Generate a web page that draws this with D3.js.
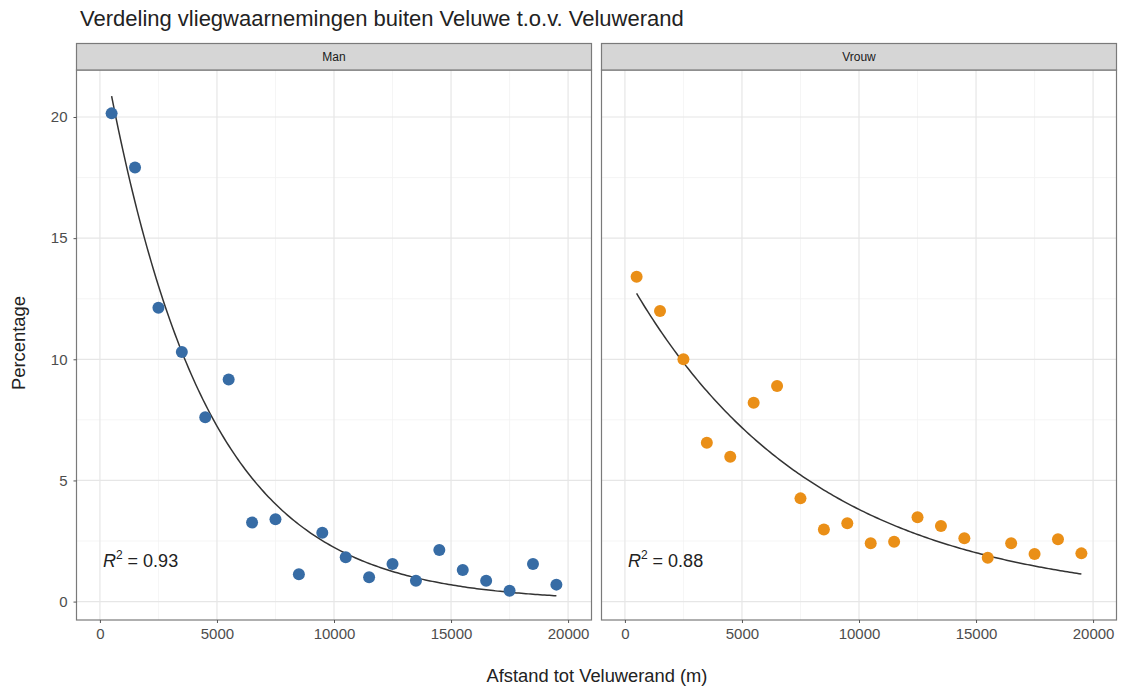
<!DOCTYPE html>
<html><head><meta charset="utf-8">
<script src="https://cdn.jsdelivr.net/npm/d3@7"></script>
<style>body{margin:0;background:#fff}svg{display:block}text{font-family:"Liberation Sans",Arial,sans-serif}</style>
</head><body>
<svg id="c" width="1127" height="689"></svg>
<script>
const title = "Verdeling vliegwaarnemingen buiten Veluwe t.o.v. Veluwerand";
const panels = ["Man", "Vrouw"];
const distances = [500,1500,2500,3500,4500,5500,6500,7500,8500,9500,10500,11500,12500,13500,14500,15500,16500,17500,18500,19500];
const manPct = [20.15,17.92,12.13,10.30,7.61,9.17,3.26,3.40,1.13,2.84,1.83,1.00,1.55,0.86,2.13,1.30,0.86,0.45,1.55,0.70];
const vrouwPct = [13.41,11.99,10.00,6.56,5.98,8.21,8.90,4.26,2.98,3.23,2.41,2.47,3.48,3.12,2.61,1.81,2.41,1.96,2.57,1.99];
// fitted exponential model y = a * exp(-b * x) per panel
const manFit = [23.46, 0.000235];
const vrouwFit = [13.55, 0.000127];
const r2Labels = ["0.93", "0.88"];
const xTicks = [0, 5000, 10000, 15000, 20000];
const yTicks = [0, 5, 10, 15, 20];
const xMinor = [2500, 7500, 12500, 17500];
const yMinor = [2.5, 7.5, 12.5, 17.5];
const colors = ["#376ca5", "#ea8f17"];

(function () {
const svg = d3.select("#c");
const panelX = [76.5, 601.5], panelW = 515, pTop = 70, pBottom = 620, stripTop = 43.5;
const y = d3.scaleLinear().domain([-0.76, 21.94]).range([pBottom, pTop]);
const series = [manPct, vrouwPct];
const fits = [manFit, vrouwFit];

function fitWidth(sel, base, target) {
  const w = sel.node().getComputedTextLength();
  sel.attr("font-size", base * target / w);
}

// title
const t = svg.append("text").attr("x", 80).attr("y", 26).attr("font-size", 19).attr("fill", "#222").text(title);
fitWidth(t, 19, 604);

panels.forEach((name, i) => {
  const x0 = panelX[i];
  const x = d3.scaleLinear().domain([-1000, 21000]).range([x0, x0 + panelW]);
  const g = svg.append("g");
  // minor grid
  g.selectAll(".mx").data(xMinor).join("line").attr("x1", d => x(d)).attr("x2", d => x(d))
    .attr("y1", pTop).attr("y2", pBottom).attr("stroke", "#f2f2f2").attr("stroke-width", 0.8);
  g.selectAll(".my").data(yMinor).join("line").attr("y1", d => y(d)).attr("y2", d => y(d))
    .attr("x1", x0).attr("x2", x0 + panelW).attr("stroke", "#f2f2f2").attr("stroke-width", 0.8);
  // major grid
  g.selectAll(".gx").data(xTicks).join("line").attr("x1", d => x(d)).attr("x2", d => x(d))
    .attr("y1", pTop).attr("y2", pBottom).attr("stroke", "#e6e6e6").attr("stroke-width", 1.2);
  g.selectAll(".gy").data(yTicks).join("line").attr("y1", d => y(d)).attr("y2", d => y(d))
    .attr("x1", x0).attr("x2", x0 + panelW).attr("stroke", "#e6e6e6").attr("stroke-width", 1.2);

  // fitted curve
  const [a, b] = fits[i];
  const xs = d3.range(distances[0], distances[distances.length - 1] + 1, 100);
  g.append("path").datum(xs).attr("fill", "none").attr("stroke", "#333").attr("stroke-width", 1.5)
    .attr("d", d3.line().x(d => x(d)).y(d => y(a * Math.exp(-b * d))));

  // points
  g.selectAll("circle").data(series[i]).join("circle")
    .attr("cx", (d, j) => x(distances[j])).attr("cy", d => y(d)).attr("r", 6).attr("fill", colors[i]);

  // R^2 label
  const rt = g.append("text").attr("x", x(0) + 3).attr("y", y(1.72) + 7).attr("font-size", 18).attr("fill", "#222");
  rt.append("tspan").attr("font-style", "italic").text("R");
  rt.append("tspan").attr("dy", -8).attr("font-size", 12).text("2");
  rt.append("tspan").attr("dy", 8).text(" = " + r2Labels[i]);

  // panel border
  g.append("rect").attr("x", x0).attr("y", pTop).attr("width", panelW).attr("height", pBottom - pTop)
    .attr("fill", "none").attr("stroke", "#7a7a7a").attr("stroke-width", 1.2);
  // strip
  g.append("rect").attr("x", x0).attr("y", stripTop).attr("width", panelW).attr("height", pTop - stripTop)
    .attr("fill", "#d6d6d6").attr("stroke", "#7a7a7a").attr("stroke-width", 1.2);
  g.append("text").attr("x", x0 + panelW / 2).attr("y", (stripTop + pTop) / 2 + 4).attr("text-anchor", "middle")
    .attr("font-size", 12).attr("fill", "#1a1a1a").text(name);

  // x axis
  const xa = g.append("g").attr("transform", `translate(0,${pBottom})`)
    .call(d3.axisBottom(x).tickValues(xTicks).tickSize(3).tickPadding(5).tickFormat(d3.format("d")));
  xa.select(".domain").remove();
  xa.selectAll("line").attr("stroke", "#555");
  xa.selectAll("text").attr("font-size", 15).attr("fill", "#4d4d4d").attr("font-family", "Liberation Sans, Arial, sans-serif");

  if (i === 0) {
    const ya = g.append("g").attr("transform", `translate(${x0},0)`)
      .call(d3.axisLeft(y).tickValues(yTicks).tickSize(3).tickPadding(6));
    ya.select(".domain").remove();
    ya.selectAll("line").attr("stroke", "#555");
    ya.selectAll("text").attr("font-size", 15).attr("fill", "#4d4d4d").attr("font-family", "Liberation Sans, Arial, sans-serif");
  }
});

// axis titles
const xt = svg.append("text").attr("x", 597).attr("y", 682).attr("text-anchor", "middle").attr("font-size", 16)
  .attr("fill", "#222").text("Afstand tot Veluwerand (m)");
fitWidth(xt, 16, 221);
const yt = svg.append("text").attr("transform", "translate(25,343) rotate(-90)").attr("text-anchor", "middle")
  .attr("font-size", 16).attr("fill", "#222").text("Percentage");
fitWidth(yt, 16, 94);
})();
</script>
</body></html>
